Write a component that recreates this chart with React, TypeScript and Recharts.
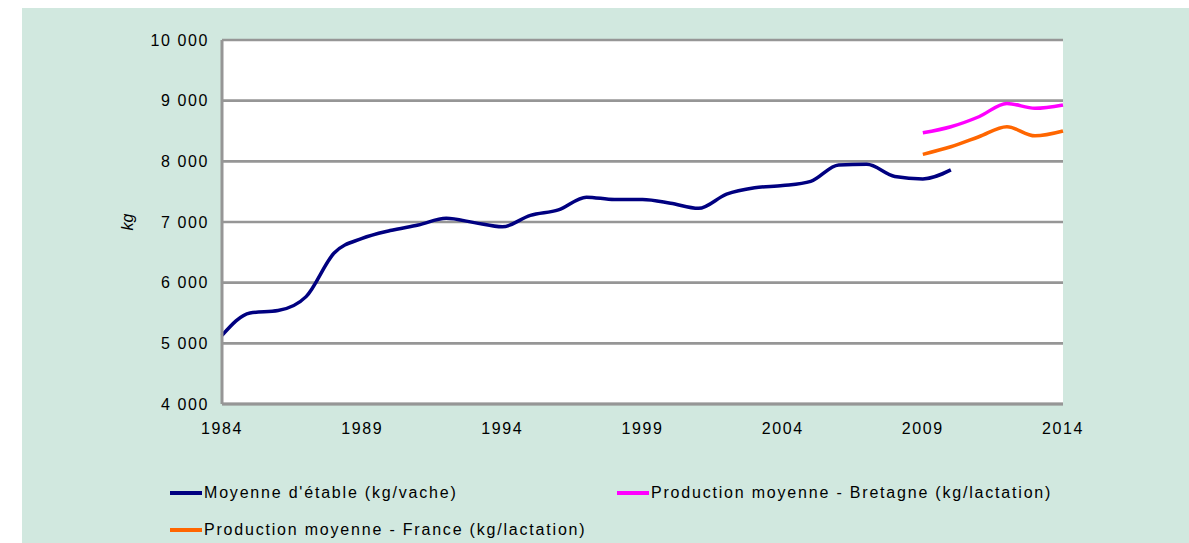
import React from "react";
import { LineChart, Line, XAxis, YAxis, CartesianGrid } from "recharts";

const years = [1984,1985,1986,1987,1988,1989,1990,1991,1992,1993,1994,1995,1996,1997,1998,1999,2000,2001,2002,2003,2004,2005,2006,2007,2008,2009,2010,2011,2012,2013,2014];
const etable = [5130,5500,5540,5770,6490,6730,6860,6950,7060,6990,6920,7110,7200,7410,7370,7370,7310,7225,7460,7565,7600,7670,7940,7950,7750,7710,7860];
const bretagneYears = [2009,2010,2011,2012,2013,2014];
const bretagne = [8470,8570,8735,8955,8875,8930];
const france = [8115,8240,8405,8570,8420,8500];
const xTicks = [1984,1989,1994,1999,2004,2009,2014];
const yTicks = [4000,5000,6000,7000,8000,9000,10000];

const seriesNames = [
  "Moyenne d'étable (kg/vache)",
  "Production moyenne - Bretagne (kg/lactation)",
  "Production moyenne - France (kg/lactation)",
];
const colors = ["#000080", "#FF00FF", "#FF6600"];

const data = years.map((y, i) => {
  const bi = bretagneYears.indexOf(y);
  return {
    year: y,
    etable: i < etable.length ? etable[i] : null,
    bretagne: bi >= 0 ? bretagne[bi] : null,
    france: bi >= 0 ? france[bi] : null,
  };
});

const FONT = "'Liberation Sans', Arial, sans-serif";
const GRID = "#969696";

const fmt = (v: number) => {
  const s = String(v);
  if (s.length <= 3) return s;
  return s.slice(0, s.length - 3) + " " + s.slice(s.length - 3);
};

const legendItems = [
  { left: 170, top: 493, i: 0 },
  { left: 617, top: 493, i: 1 },
  { left: 170, top: 530, i: 2 },
];

export default function App() {
  return (
    <div style={{ position: "relative", width: 1189, height: 543, background: "#fff", overflow: "hidden" }}>
      <style>{`body{margin:0;overflow:hidden;}`}</style>
      <div style={{ position: "absolute", left: 22, top: 8, width: 1167, height: 535, background: "#d1e8df" }} />
      <div style={{ position: "absolute", left: 0, top: 0 }}>
        <LineChart
          width={1189}
          height={543}
          data={data}
          margin={{ top: 40, right: 126, bottom: 109, left: 162 }}
        >
          <CartesianGrid
            vertical={false}
            stroke={GRID}
            strokeWidth={2.6}
            fill="#ffffff"
            fillOpacity={1}
          />
          <XAxis
            dataKey="year"
            type="number"
            domain={[1984, 2014]}
            ticks={xTicks}
            height={30}
            axisLine={{ stroke: GRID, strokeWidth: 3 }}
            tickLine={false}
            tickSize={0}
            tickMargin={19}
            tick={{ fill: "#000", fontFamily: FONT, fontSize: 16, letterSpacing: 1.6 }}
            interval={0}
            allowDecimals={false}
          />
          <YAxis
            type="number"
            domain={[4000, 10000]}
            ticks={yTicks}
            width={60}
            axisLine={{ stroke: GRID, strokeWidth: 3 }}
            tickLine={false}
            tickSize={0}
            tickMargin={13}
            tickFormatter={fmt}
            tick={{ fill: "#000", fontFamily: FONT, fontSize: 16, letterSpacing: 1.6 }}
            interval={0}
            label={{
              value: "kg",
              angle: -90,
              position: "insideLeft",
              offset: 0,
              dx: -35,
              style: { fontFamily: FONT, fontSize: 16, fontStyle: "italic", fill: "#000", textAnchor: "middle" },
            }}
          />
          <Line
            type="monotone"
            dataKey="etable"
            name={seriesNames[0]}
            stroke={colors[0]}
            strokeWidth={3.5}
            dot={false}
            connectNulls={false}
            isAnimationActive={false}
          />
          <Line
            type="monotone"
            dataKey="bretagne"
            name={seriesNames[1]}
            stroke={colors[1]}
            strokeWidth={3.5}
            dot={false}
            connectNulls={false}
            isAnimationActive={false}
          />
          <Line
            type="monotone"
            dataKey="france"
            name={seriesNames[2]}
            stroke={colors[2]}
            strokeWidth={3.5}
            dot={false}
            connectNulls={false}
            isAnimationActive={false}
          />
        </LineChart>
      </div>
      {legendItems.map((it) => (
        <div
          key={it.i}
          style={{
            position: "absolute",
            left: it.left,
            top: it.top - 10,
            height: 20,
            display: "flex",
            alignItems: "center",
            whiteSpace: "nowrap",
          }}
        >
          <div style={{ width: 32, height: 4, background: colors[it.i], marginRight: 2 }} />
          <span style={{ fontFamily: FONT, fontSize: 16, letterSpacing: 1.8, color: "#000" }}>
            {seriesNames[it.i]}
          </span>
        </div>
      ))}
    </div>
  );
}
